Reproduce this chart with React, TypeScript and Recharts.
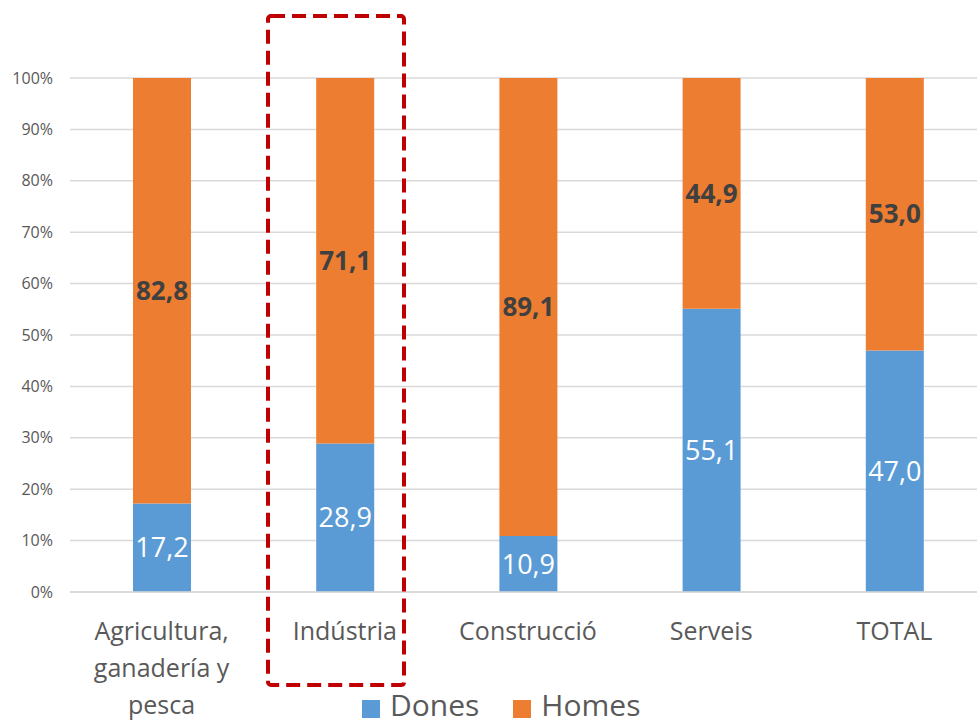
import React from 'react';
import { BarChart, Bar, XAxis, YAxis, CartesianGrid, LabelList } from 'recharts';

const categories = ['Agricultura, ganadería y pesca', 'Indústria', 'Construcció', 'Serveis', 'TOTAL'];
const dones = [17.2, 28.9, 10.9, 55.1, 47.0];
const homes = [82.8, 71.1, 89.1, 44.9, 53.0];
const yTicks = [0, 10, 20, 30, 40, 50, 60, 70, 80, 90, 100];

const BLUE = '#5B9BD5';
const ORANGE = '#ED7D31';
const TEXT = '#595959';
const FONT = '"Open Sans", "Noto Sans", sans-serif';

const data = categories.map((name, i) => ({ name, dones: dones[i], homes: homes[i] }));

const fmt = (v: number) => v.toFixed(1).replace('.', ',');

// greedy word wrap by character count
function wrap(label: string, maxChars: number) {
  const lines: string[] = [];
  let cur = '';
  for (const w of label.split(' ')) {
    const next = cur ? cur + ' ' + w : w;
    if (next.length > maxChars && cur) {
      lines.push(cur);
      cur = w;
    } else {
      cur = next;
    }
  }
  if (cur) lines.push(cur);
  return lines;
}

function CategoryTick(props: any) {
  const { x, y, payload } = props;
  const lines = wrap(String(payload.value), 12);
  return (
    <text x={x} y={y + 48} textAnchor="middle" fill={TEXT} fontSize={25} fontFamily={FONT}>
      {lines.map((l, i) => (
        <tspan key={i} x={x} dy={i === 0 ? 0 : 37}>{l}</tspan>
      ))}
    </text>
  );
}

export default function App() {
  return (
    <div style={{ position: 'absolute', left: 0, top: 0, width: 977, height: 726, overflow: 'hidden', background: '#fff', fontFamily: FONT }}>
      <BarChart width={986} height={726} data={data} margin={{ top: 78, right: 0, bottom: 0, left: 0 }}>
        <CartesianGrid vertical={false} stroke="#d9d9d9" strokeWidth={1.5} />
        <XAxis
          dataKey="name"
          height={134}
          tickLine={false}
          tickSize={0}
          tickMargin={0}
          axisLine={{ stroke: '#d9d9d9', strokeWidth: 1.5 }}
          tick={<CategoryTick />}
          interval={0}
        />
        <YAxis
          width={70}
          domain={[0, 100]}
          ticks={yTicks}
          tickFormatter={(v) => `${v}%`}
          axisLine={false}
          tickLine={false}
          tickSize={0}
          tickMargin={17}
          tick={{ fill: TEXT, fontSize: 16, fontFamily: FONT }}
        />
        <Bar dataKey="dones" stackId="a" fill={BLUE} barSize={58} isAnimationActive={false}>
          <LabelList dataKey="dones" position="center" formatter={(v: any) => fmt(Number(v))} fill="#fff" fontSize={27} fontFamily={FONT} />
        </Bar>
        <Bar dataKey="homes" stackId="a" fill={ORANGE} barSize={58} isAnimationActive={false}>
          <LabelList dataKey="homes" position="center" formatter={(v: any) => fmt(Number(v))} fill="#404040" fontSize={26} fontWeight="bold" fontFamily={FONT} />
        </Bar>
      </BarChart>

      <svg width={977} height={726} style={{ position: 'absolute', left: 0, top: 0, pointerEvents: 'none' }}>
        <rect x={268} y={16} width={136} height={669} rx={3} fill="none" stroke="#C00000" strokeWidth={4} strokeDasharray="14 7" />
      </svg>

      <div style={{ position: 'absolute', top: 687, left: 362, display: 'flex', alignItems: 'center', color: TEXT, fontSize: 30, lineHeight: '36px' }}>
        <span style={{ width: 18, height: 18, background: BLUE, display: 'inline-block', marginRight: 10, marginTop: 8 }} />
        <span>Dones</span>
        <span style={{ width: 18, height: 18, background: ORANGE, display: 'inline-block', marginLeft: 34, marginRight: 10, marginTop: 8 }} />
        <span>Homes</span>
      </div>
    </div>
  );
}
